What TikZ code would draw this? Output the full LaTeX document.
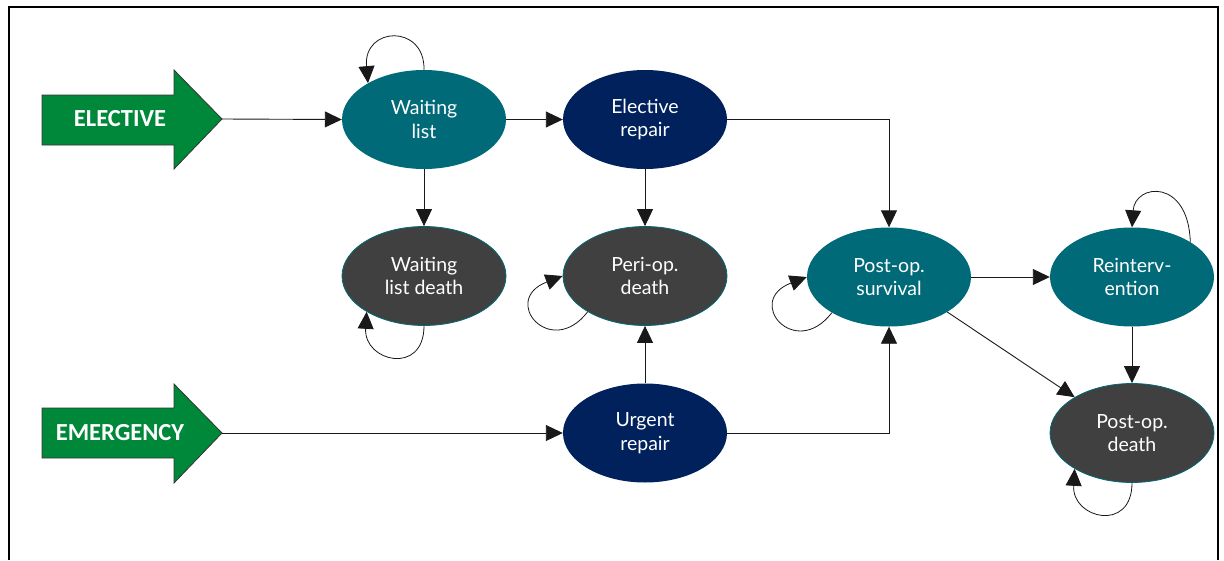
\documentclass[tikz,border=0pt]{standalone}
\usepackage{fontspec}
\setmainfont{Lato}
\newfontfamily\calb{Carlito}
\usetikzlibrary{arrows.meta,shapes.geometric}
\definecolor{teal1}{RGB}{0,106,120}
\definecolor{navy1}{RGB}{0,33,92}
\definecolor{dgray}{RGB}{64,64,64}
\definecolor{green1}{RGB}{0,136,58}
\begin{document}
\begin{tikzpicture}[x=1pt,y=-1pt,
  st/.style={ellipse, minimum width=164pt, minimum height=99pt, inner sep=0pt, text=white, align=center, font=\fontsize{19.5}{23.5}\selectfont},
  tealst/.style={st, fill=teal1},
  navyst/.style={st, fill=navy1},
  deadst/.style={st, fill=dgray, draw=teal1, line width=0.8pt},
  conn/.style={-{Triangle[length=17pt,width=16pt]}, line width=0.9pt, black!90},
  selfloop/.style={conn, line width=0.8pt},
  entry/.style={fill=green1, draw=black!80, line width=0.8pt},
  entrytxt/.style={text=white, font=\calb\bfseries\fontsize{24.5}{28}\selectfont}
]
\useasboundingbox (0,0) rectangle (1224,560);
\draw[line width=2.5pt] (9,560) -- (9,7) -- (1219,7);
\draw[line width=1.5pt] (1218,7) -- (1218,560);

% entry arrows
\draw[entry] (42,95) -- (174,95) -- (174,70) -- (222,119) -- (174,169) -- (174,145) -- (42,145) -- cycle;
\node[entrytxt] (el) at (120,119) {ELECTIVE};
\coordinate (eltip) at (222,119);
\draw[entry] (42,408) -- (174,408) -- (174,384) -- (222,433) -- (174,483) -- (174,458) -- (42,458) -- cycle;
\node[entrytxt] (em) at (120,433) {EMERGENCY};
\coordinate (emtip) at (222,433);

% states
\node[tealst] (wl) at (424,119.5) {Waiting\\list};
\node[navyst] (er) at (645,119.5) {Elective\\repair};
\node[deadst] (wld) at (424,276) {Waiting\\list death};
\node[deadst] (pd) at (645,276) {Peri-op.\\death};
\node[navyst] (ur) at (645,433) {Urgent\\repair};
\node[tealst] (ps) at (889,277) {Post-op.\\survival};
\node[tealst] (ri) at (1132,277) {Reinterv-\\ention};
\node[deadst] (pod) at (1132,433) {Post-op.\\death};

% connectors
\draw[conn] (eltip) -- (wl.west);
\draw[conn] (wl) -- (er);
\draw[conn] (wl) -- (wld);
\draw[conn] (er) -- (pd);
\draw[conn] (er.east) -| (ps.north);
\draw[conn] (emtip) -- (ur.west);
\draw[conn] (ur) -- (pd);
\draw[conn] (ur.east) -| (ps.south);
\draw[conn] (ps) -- (ri);
\draw[conn] (ri) -- (pod);
\draw[conn] (ps.-31) -- (pod.148);

% self loops
\draw[selfloop] (wl.90) .. controls +(1,-46) and +(-5,-57) .. (wl.147);
\draw[selfloop] (wld.270) .. controls +(0,50) and +(-3,50) .. (wld.212);
\draw[selfloop] (pd.212) .. controls +(-37,48) and +(-63,24) .. (pd.180);
\draw[selfloop] (ps.212) .. controls +(-37,48) and +(-63,24) .. (ps.180);
\draw[selfloop] (ri.31) .. controls +(-2,-64) and +(3,-44) .. (ri.90);
\draw[selfloop] (pod.270) .. controls +(0,50) and +(-3,50) .. (pod.212);
\end{tikzpicture}
\end{document}
